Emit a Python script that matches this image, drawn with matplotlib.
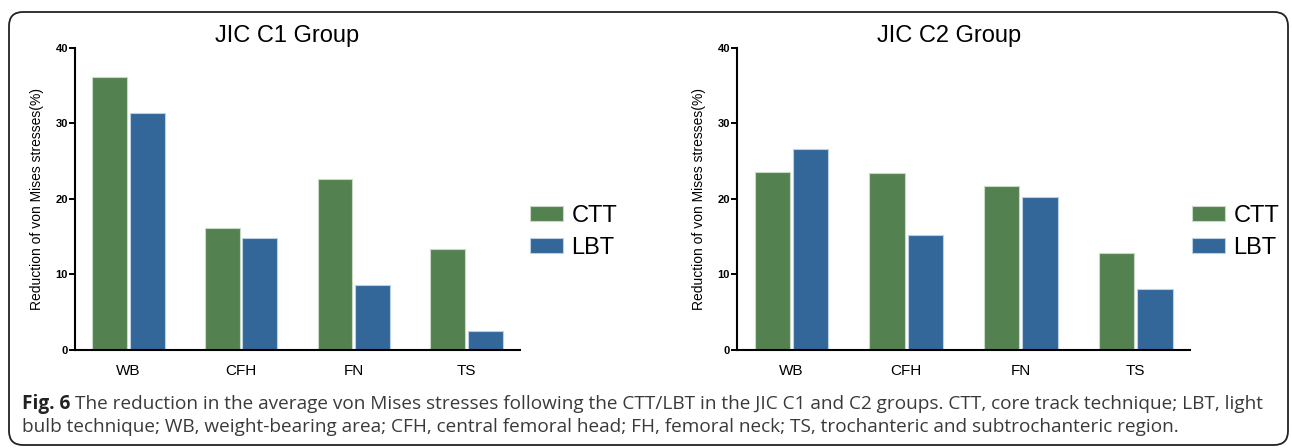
import matplotlib
matplotlib.use("Agg")
import matplotlib.pyplot as plt
import numpy as np
from matplotlib.patches import FancyBboxPatch

# data
regions = ["WB", "CFH", "FN", "TS"]
c1_ctt = [36.2, 16.2, 22.7, 13.4]
c1_lbt = [31.4, 14.8, 8.6, 2.5]
c2_ctt = [23.6, 23.4, 21.7, 12.8]
c2_lbt = [26.6, 15.2, 20.3, 8.1]

GREEN = "#548150"
BLUE = "#336699"

plt.rcParams["font.family"] = ["Liberation Sans", "DejaVu Sans"]

W, H = 1292, 448
fig = plt.figure(figsize=(W / 100, H / 100), dpi=100)


def draw_panel(rect, title, title_x, legend_x, ctt, lbt):
    ax = fig.add_axes(rect)
    x = np.arange(len(regions))
    w = 0.31
    off = 0.167
    ax.bar(x - off, ctt, w, color=GREEN, edgecolor="#c9d9c6", linewidth=0.8, label="CTT")
    ax.bar(x + off, lbt, w, color=BLUE, edgecolor="#bcd0e3", linewidth=0.8, label="LBT")
    ax.set_xlim(-0.475, 3.475)
    ax.set_ylim(0, 40)
    ax.set_yticks([0, 10, 20, 30, 40])
    ax.set_xticks(x)
    ax.set_xticklabels(regions, fontsize=11)
    for lab in ax.get_yticklabels():
        lab.set_fontweight("bold")
        lab.set_fontsize(8)
    ax.tick_params(axis="y", length=4, width=1.4, pad=1)
    ax.tick_params(axis="x", length=0, pad=10)
    for s in ["top", "right"]:
        ax.spines[s].set_visible(False)
    for s in ["left", "bottom"]:
        ax.spines[s].set_linewidth(1.5)
    ax.set_ylabel("Reduction of von Mises stresses(%)", fontsize=10, labelpad=8)
    ax.set_title(title, fontsize=17, pad=4, x=title_x)
    ax.legend(loc="center left", bbox_to_anchor=(legend_x / W, 1 - 232 / H),
              bbox_transform=fig.transFigure, frameon=False, borderpad=0,
              borderaxespad=0, fontsize=17, handlelength=1.4, handleheight=0.6,
              handletextpad=0.35, labelspacing=0.45)
    return ax


draw_panel([0.058, 0.219, 0.3445, 0.674], "JIC C1 Group", 0.476, 530, c1_ctt, c1_lbt)
draw_panel([0.5704, 0.219, 0.3507, 0.674], "JIC C2 Group", 0.468, 1192, c2_ctt, c2_lbt)

# rounded frame around the figure
frame = FancyBboxPatch((9, 3), 1279, 433, boxstyle="round,pad=0,rounding_size=14",
                       transform=None, facecolor="none", edgecolor="#222222", linewidth=1.3)
fig.add_artist(frame)

# caption
cap_font = ["Open Sans", "DejaVu Sans"]
cap_size = 13.65
cap_color = "#3a3a3a"
x0 = 22 / W
y1 = 1 - 409 / H
y2 = 1 - 432 / H
t_bold = fig.text(x0, y1, "Fig. 6", fontsize=cap_size, fontweight="bold",
                  family=cap_font, color="#222222", va="baseline")
fig.canvas.draw()
bb = t_bold.get_window_extent(renderer=fig.canvas.get_renderer())
x_after = (bb.x1 + 5) / fig.bbox.width
fig.text(x_after, y1, "The reduction in the average von Mises stresses following the CTT/LBT in the "
         "JIC C1 and C2 groups. CTT, core track technique; LBT, light",
         fontsize=cap_size, family=cap_font, color=cap_color, va="baseline")
fig.text(x0, y2, "bulb technique; WB, weight-bearing area; CFH, central femoral head; FH, femoral neck; "
         "TS, trochanteric and subtrochanteric region.",
         fontsize=cap_size, family=cap_font, color=cap_color, va="baseline")

fig.savefig("out.png", dpi=100)
